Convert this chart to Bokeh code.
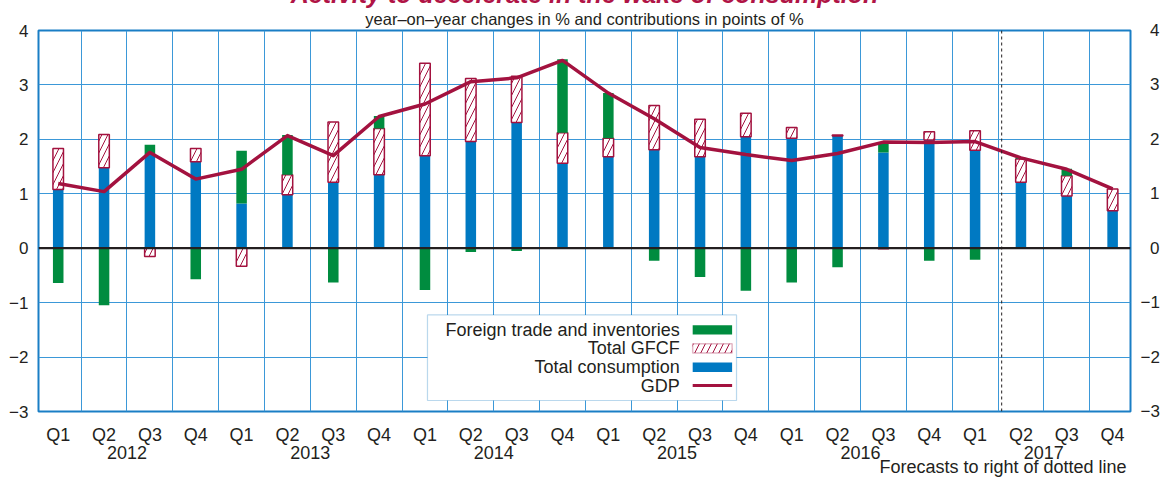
from bokeh.plotting import figure
from bokeh.models import (FixedTicker, LinearAxis, Span, Label, BoxAnnotation, Range1d, Title,
                          GlobalInlineStyleSheet)
from bokeh.embed import file_html
from bokeh.resources import INLINE

# ---------------- data ----------------
quarter_labels = ["Q1", "Q2", "Q3", "Q4"] * 6
year_labels = ["2012", "2013", "2014", "2015", "2016", "2017"]
consumption = [1.08, 1.48, 1.73, 1.59, 0.82, 0.98, 1.21, 1.35, 1.70, 1.96, 2.31, 1.56,
               1.68, 1.81, 1.68, 2.05, 2.02, 2.06, 1.76, 1.99, 1.80, 1.21, 0.96, 0.69]
gfcf = [0.75, 0.61, -0.15, 0.24, -0.33, 0.37, 1.11, 0.85, 1.70, 1.16, 0.85, 0.56,
        0.34, 0.81, 0.69, 0.43, 0.20, 0.02, -0.01, 0.15, 0.36, 0.43, 0.37, 0.40]
trade = [-0.64, -1.05, 0.17, -0.57, 0.97, 0.73, -0.63, 0.23, -0.77, -0.07, -0.05, 1.35,
         0.83, -0.23, -0.53, -0.78, -0.63, -0.35, 0.18, -0.23, -0.21, 0.02, 0.13, 0.00]
gdp = [1.19, 1.04, 1.76, 1.27, 1.45, 2.07, 1.70, 2.42, 2.65, 3.06, 3.13, 3.45,
       2.85, 2.38, 1.85, 1.72, 1.61, 1.74, 1.95, 1.94, 1.96, 1.66, 1.45, 1.09]
y_ticks = [-3, -2, -1, 0, 1, 2, 3, 4]
forecast_start = 20.58  # between 2017 Q1 and Q2
title_text = "Activity to decelerate in the wake of consumption"
subtitle_text = "year\u2013on\u2013year changes in % and contributions in points of %"
note_text = "Forecasts to right of dotted line"

# ---------------- styles ----------------
FONT = "Liberation Sans"
TEXT = "#231f20"
BLUE = "#0079c2"
GREEN = "#008c3f"
CRIMSON = "#a3123f"
TITLE_RED = "#b01446"
GRID = "#3b98d8"
FRAME = "#1a7ec5"

n = len(gdp)
xs = list(range(n))

# stacking: positives upward, negatives downward
pos = [0.0] * n
neg = [0.0] * n
stacks = []
for series in (consumption, gfcf, trade):
    bottoms, tops = [], []
    for i, v in enumerate(series):
        if v >= 0:
            b, t = pos[i], pos[i] + v
            pos[i] = t
        else:
            b, t = neg[i] + v, neg[i]
            neg[i] = b
        bottoms.append(b)
        tops.append(t)
    stacks.append((bottoms, tops))

TOP_HIDDEN = 30  # part of the canvas above the window (the title is cut off there)

p = figure(width=1162, height=517,
           x_range=Range1d(-0.43, 23.39), y_range=Range1d(-3, 4),
           output_backend="svg", toolbar_location=None,
           min_border_left=38, min_border_right=30,
           min_border_top=60, min_border_bottom=76)
p.styles = {"margin-top": "-%dpx" % TOP_HIDDEN}
p.stylesheets = [GlobalInlineStyleSheet(css="html, body { overflow: hidden !important; }")]
p.background_fill_color = "white"
p.border_fill_color = "white"
p.outline_line_color = FRAME
p.outline_line_width = 2
p.title.text = ""

# titles (subtitle nearest to the frame, main title above it)
p.add_layout(Title(text=subtitle_text, align="center", vertical_align="bottom", standoff=5,
                   text_font=FONT, text_font_size="16.5px", text_font_style="normal",
                   text_color=TEXT), "above")
p.add_layout(Title(text=title_text, align="center", vertical_align="bottom", standoff=-5,
                   text_font=FONT, text_font_size="25px", text_font_style="bold italic",
                   text_color=TITLE_RED), "above")

def style_axis(ax, standoff, size="18px"):
    ax.axis_line_color = None
    ax.major_tick_line_color = None
    ax.minor_tick_line_color = None
    ax.major_tick_out = 0
    ax.major_tick_in = 0
    ax.minor_tick_out = 0
    ax.minor_tick_in = 0
    ax.major_label_text_font = FONT
    ax.major_label_text_font_size = size
    ax.major_label_text_color = TEXT
    ax.major_label_standoff = standoff

left_over = {t: ("\u2212" + str(-t) if t < 0 else str(t)) for t in y_ticks}
# right-hand labels are right-aligned in the original: pad digits with a figure space
right_over = {t: ("\u2212" + str(-t) if t < 0 else "\u2007" + str(t)) for t in y_ticks}

# x axis: quarters
p.xaxis.ticker = FixedTicker(ticks=xs)
p.xaxis.major_label_overrides = {i: quarter_labels[i] for i in xs}
style_axis(p.xaxis[0], 13)

# year axis below
year_pos = [1.5 + 4 * k for k in range(len(year_labels))]
year_axis = LinearAxis(ticker=FixedTicker(ticks=year_pos),
                       major_label_overrides={year_pos[k]: year_labels[k] for k in range(len(year_labels))})
style_axis(year_axis, -2)
p.add_layout(year_axis, "below")

# note below, right-aligned under the forecast period
note_pos = 20.61
note_axis = LinearAxis(ticker=FixedTicker(ticks=[note_pos]),
                       major_label_overrides={note_pos: note_text})
style_axis(note_axis, -5)
p.add_layout(note_axis, "below")

# y axes
p.yaxis.ticker = FixedTicker(ticks=y_ticks)
p.yaxis.major_label_overrides = left_over
style_axis(p.yaxis[0], 10, "17px")
right_axis = LinearAxis(ticker=FixedTicker(ticks=y_ticks), major_label_overrides=right_over)
style_axis(right_axis, 10, "17px")
p.add_layout(right_axis, "right")

# grids
p.ygrid.ticker = FixedTicker(ticks=y_ticks)
p.xgrid.ticker = FixedTicker(ticks=[i + 0.5 for i in range(n - 1)])
for g in (p.xgrid[0], p.ygrid[0]):
    g.grid_line_color = GRID
    g.grid_line_width = 1
    g.grid_line_alpha = 1

BW = 0.23
(cb, ct), (gb, gt), (tb, tt) = stacks
p.vbar(x=xs, width=BW, bottom=cb, top=ct, fill_color=BLUE, line_color=None)
p.vbar(x=xs, width=BW, bottom=gb, top=gt, fill_color="white", line_color=CRIMSON,
       line_width=1.5, hatch_pattern="/", hatch_color=CRIMSON, hatch_scale=12, hatch_weight=1)
p.vbar(x=xs, width=BW, bottom=tb, top=tt, fill_color=GREEN, line_color=None)
p.line(xs, gdp, line_color=CRIMSON, line_width=3.5, line_join="round")

p.add_layout(Span(location=0, dimension="width", line_color=TEXT, line_width=2.2))
p.add_layout(Span(location=forecast_start, dimension="height", line_color=TEXT,
                  line_width=1, line_dash="3 3"))

# legend (custom: labels right-aligned, swatch on the right)
p.add_layout(BoxAnnotation(left=8.055, right=14.796, top=-1.226, bottom=-2.798,
                           fill_color="white", fill_alpha=1, line_color=FRAME, line_width=1.2))
leg_rows = [-1.501, -1.838, -2.187, -2.523]
leg_texts = ["Foreign trade and inventories", "Total GFCF", "Total consumption", "GDP"]
sw_l, sw_r, hh = 13.84, 14.70, 0.085
p.add_layout(BoxAnnotation(left=sw_l, right=sw_r, top=leg_rows[0] + hh, bottom=leg_rows[0] - hh,
                           fill_color=GREEN, fill_alpha=1, line_color=None))
p.add_layout(BoxAnnotation(left=sw_l, right=sw_r, top=leg_rows[1] + hh, bottom=leg_rows[1] - hh,
                           fill_color="white", fill_alpha=1, line_color=CRIMSON, line_width=1.5,
                           hatch_pattern="/", hatch_color=CRIMSON, hatch_scale=12, hatch_weight=1))
p.add_layout(BoxAnnotation(left=sw_l, right=sw_r, top=leg_rows[2] + hh, bottom=leg_rows[2] - hh,
                           fill_color=BLUE, fill_alpha=1, line_color=None))
p.add_layout(BoxAnnotation(left=sw_l, right=sw_r, top=leg_rows[3] + 0.028, bottom=leg_rows[3] - 0.028,
                           fill_color=CRIMSON, fill_alpha=1, line_color=None))
for ytxt, txt in zip(leg_rows, leg_texts):
    p.add_layout(Label(x=13.556, y=ytxt, text=txt, text_align="right", text_baseline="middle",
                       text_font=FONT, text_font_size="18px", text_color=TEXT))

open("out.html", "w").write(file_html(p, INLINE))
